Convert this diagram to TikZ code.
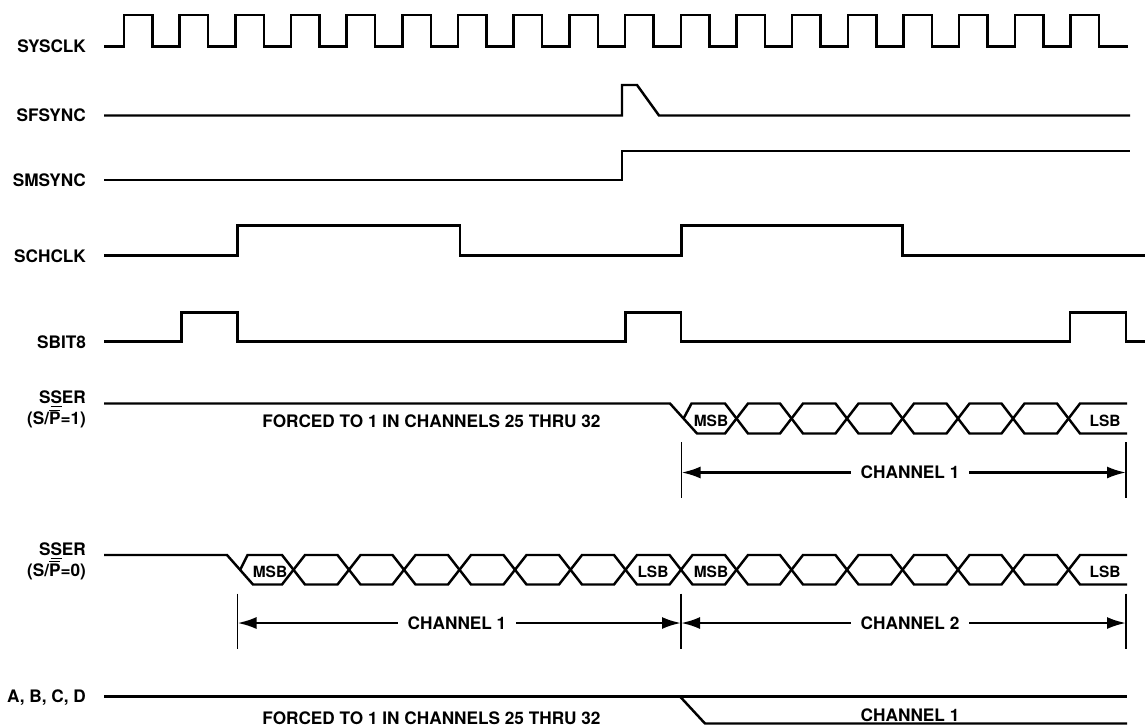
\documentclass[tikz,border=0pt]{standalone}
\usepackage{fontspec}
\setmainfont{TeX Gyre Heros}
\usetikzlibrary{arrows.meta}
\newcommand\barP{\leavevmode\rlap{\rule[7.8pt]{6.4pt}{0.7pt}}P}
\begin{document}
\begin{tikzpicture}[line width=1.4pt,every node/.style={font=\fontsize{9.8}{10.8}\selectfont\bfseries}]
\useasboundingbox (0,0) rectangle (22.9,-14.52);
\node[anchor=east] (sysclk) at (1.86,-0.93) {SYSCLK};
\node[anchor=east] (sfsync) at (1.86,-2.31) {SFSYNC};
\node[anchor=east] (smsync) at (1.86,-3.61) {SMSYNC};
\node[anchor=east] (schclk) at (1.86,-5.12) {SCHCLK};
\node[anchor=east] (sbit) at (1.86,-6.84) {SBIT8};
\node[anchor=east] (sserone) at (1.86,-8.21) {\begin{tabular}{@{}r@{}}
                                 S\underline{S}ER\\
                                 (S/\barP=1)
                               \end{tabular}};
\node[anchor=east] (sserzero) at (1.86,-11.24) {\begin{tabular}{@{}r@{}}
                                 S\underline{S}ER\\
                                 (S/\barP=0)
                               \end{tabular}};
\node[anchor=east] (abcd) at (1.86,-13.96) {A, B, C, D};
\draw (2.08,-0.93) -- (2.48,-0.93) |- (3.05,-0.30) |- (3.59,-0.93) |- (4.16,-0.30) |- (4.71,-0.93) |- (5.28,-0.30) |- (5.82,-0.93) |- (6.39,-0.30) |- (6.93,-0.93) |- (7.50,-0.30) |- (8.05,-0.93) |- (8.62,-0.30) |- (9.16,-0.93) |- (9.73,-0.30) |- (10.27,-0.93) |- (10.84,-0.30) |- (11.39,-0.93) |- (11.96,-0.30) |- (12.50,-0.93) |- (13.07,-0.30) |- (13.62,-0.93) |- (14.19,-0.30) |- (14.73,-0.93) |- (15.30,-0.30) |- (15.84,-0.93) |- (16.41,-0.30) |- (16.96,-0.93) |- (17.53,-0.30) |- (18.07,-0.93) |- (18.64,-0.30) |- (19.18,-0.93) |- (19.75,-0.30) |- (20.30,-0.93) |- (20.87,-0.30) |- (21.41,-0.93) |- (21.98,-0.30) |- (22.56,-0.93);
\draw (2.08,-2.31) -- (12.44,-2.31) -- (12.44,-1.70) -- (12.74,-1.70) -- (13.18,-2.31) -- (22.60,-2.31);
\draw (2.08,-3.60) -- (12.44,-3.60) -- (12.44,-3.02) -- (22.60,-3.02);
\draw (2.08,-5.11) -| (4.75,-4.51) -| (9.20,-5.11) -| (13.63,-4.51) -| (18.05,-5.11) -- (22.90,-5.11);
\draw (2.08,-6.83) -| (3.63,-6.25) -| (4.75,-6.83) -| (12.51,-6.25) -| (13.62,-6.83) -| (21.40,-6.25) -| (22.52,-6.83) -- (22.90,-6.83);
\draw (2.08,-8.07) -- (13.40,-8.07) -- (13.94,-8.67) -- (14.50,-8.67) -- (14.96,-8.07) -- (15.60,-8.07) -- (16.06,-8.67) -- (16.71,-8.67) -- (17.17,-8.07) -- (17.82,-8.07) -- (18.28,-8.67) -- (18.93,-8.67) -- (19.39,-8.07) -- (20.03,-8.07) -- (20.49,-8.67) -- (21.14,-8.67) -- (21.60,-8.07) -- (22.54,-8.07);
\draw (13.67,-8.37) -- (13.83,-8.07) -- (14.50,-8.07) -- (14.96,-8.67) -- (15.60,-8.67) -- (16.06,-8.07) -- (16.71,-8.07) -- (17.17,-8.67) -- (17.82,-8.67) -- (18.28,-8.07) -- (18.93,-8.07) -- (19.39,-8.67) -- (20.03,-8.67) -- (20.49,-8.07) -- (21.14,-8.07) -- (21.60,-8.67) -- (22.54,-8.67);
\node (forcedone) at (8.63,-8.42) {FORCED TO 1 IN CHANNELS 25 THRU 32};
\node[font=\fontsize{8.8}{9}\selectfont\bfseries] (msbone) at (14.22,-8.41) {MSB};
\node[font=\fontsize{8.8}{9}\selectfont\bfseries] (lsbone) at (22.10,-8.41) {LSB};
\draw[line width=1.1pt] (13.63,-8.84) -- (13.63,-9.95);
\draw[line width=1.1pt] (22.52,-8.84) -- (22.52,-9.95);
\coordinate (chonel) at (13.63,-9.45);
\coordinate (choner) at (22.52,-9.45);
\node[inner xsep=5pt] (chone) at (18.20,-9.45) {CHANNEL 1};
\draw[-{Latex[length=0.38cm,width=0.24cm]}] (chone.west) -- (chonel);
\draw[-{Latex[length=0.38cm,width=0.24cm]}] (chone.east) -- (choner);
\draw (2.08,-11.10) -- (4.54,-11.10) -- (5.06,-11.69) -- (5.64,-11.69) -- (6.10,-11.10) -- (6.75,-11.10) -- (7.21,-11.69) -- (7.85,-11.69) -- (8.31,-11.10) -- (8.96,-11.10) -- (9.42,-11.69) -- (10.07,-11.69) -- (10.53,-11.10) -- (11.18,-11.10) -- (11.64,-11.69) -- (12.28,-11.69) -- (12.74,-11.10) -- (13.39,-11.10) -- (13.85,-11.69) -- (14.50,-11.69) -- (14.96,-11.10) -- (15.60,-11.10) -- (16.06,-11.69) -- (16.71,-11.69) -- (17.17,-11.10) -- (17.82,-11.10) -- (18.28,-11.69) -- (18.93,-11.69) -- (19.39,-11.10) -- (20.03,-11.10) -- (20.49,-11.69) -- (21.14,-11.69) -- (21.60,-11.10) -- (22.54,-11.10);
\draw (4.80,-11.40) -- (4.95,-11.10) -- (5.64,-11.10) -- (6.10,-11.69) -- (6.75,-11.69) -- (7.21,-11.10) -- (7.85,-11.10) -- (8.31,-11.69) -- (8.96,-11.69) -- (9.42,-11.10) -- (10.07,-11.10) -- (10.53,-11.69) -- (11.18,-11.69) -- (11.64,-11.10) -- (12.28,-11.10) -- (12.74,-11.69) -- (13.39,-11.69) -- (13.85,-11.10) -- (14.50,-11.10) -- (14.96,-11.69) -- (15.60,-11.69) -- (16.06,-11.10) -- (16.71,-11.10) -- (17.17,-11.69) -- (17.82,-11.69) -- (18.28,-11.10) -- (18.93,-11.10) -- (19.39,-11.69) -- (20.03,-11.69) -- (20.49,-11.10) -- (21.14,-11.10) -- (21.60,-11.69) -- (22.54,-11.69);
\node[font=\fontsize{8.8}{9}\selectfont\bfseries] (msbtwo) at (5.40,-11.44) {MSB};
\node[font=\fontsize{8.8}{9}\selectfont\bfseries] (lsbtwo) at (13.06,-11.44) {LSB};
\node[font=\fontsize{8.8}{9}\selectfont\bfseries] (msbthree) at (14.22,-11.44) {MSB};
\node[font=\fontsize{8.8}{9}\selectfont\bfseries] (lsbthree) at (22.10,-11.44) {LSB};
\draw[line width=1.1pt] (4.75,-11.87) -- (4.75,-12.97);
\draw[line width=1.1pt] (13.62,-11.87) -- (13.62,-12.97);
\draw[line width=1.1pt] (22.52,-11.87) -- (22.52,-12.97);
\coordinate (chtwol) at (4.75,-12.46);
\coordinate (chtwom) at (13.62,-12.46);
\coordinate (chtwor) at (22.52,-12.46);
\node[inner xsep=5pt] (chtwoa) at (9.14,-12.46) {CHANNEL 1};
\node[inner xsep=5pt] (chtwob) at (18.20,-12.46) {CHANNEL 2};
\draw[-{Latex[length=0.38cm,width=0.24cm]}] (chtwoa.west) -- (chtwol);
\draw[-{Latex[length=0.38cm,width=0.24cm]}] (chtwoa.east) -- (chtwom);
\draw[-{Latex[length=0.38cm,width=0.24cm]}] (chtwob.west) -- (chtwom);
\draw[-{Latex[length=0.38cm,width=0.24cm]}] (chtwob.east) -- (chtwor);
\draw (2.08,-13.93) -- (22.54,-13.93);
\draw (13.60,-13.93) -- (14.10,-14.47) -- (22.54,-14.47);
\node (forcedtwo) at (8.63,-14.36) {FORCED TO 1 IN CHANNELS 25 THRU 32};
\node (chthree) at (18.20,-14.30) {CHANNEL 1};
\end{tikzpicture}
\end{document}
